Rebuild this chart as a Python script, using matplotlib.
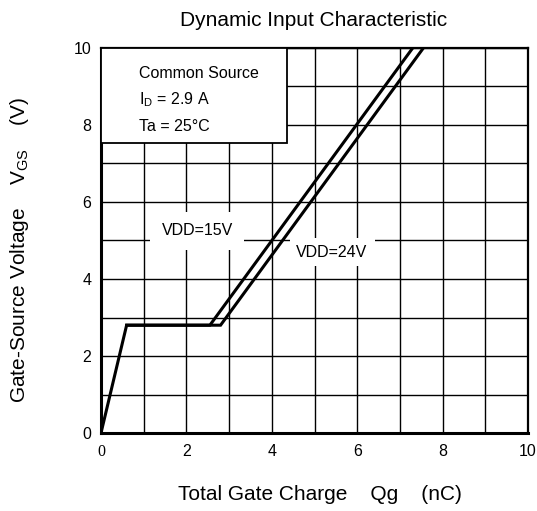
import numpy as np
import matplotlib as mpl
import matplotlib.pyplot as plt

mpl.rcParams['font.family'] = ['Liberation Sans', 'DejaVu Sans']

# data (Qg in nC, VGS in V)
qg_15 = [0.0, 0.6, 2.55, 7.3]
vgs_15 = [0.0, 2.8, 2.8, 10.0]
qg_24 = [0.6, 2.8, 7.55]
vgs_24 = [2.8, 2.8, 10.0]

x_ticks = [0, 2, 4, 6, 8, 10]
y_ticks = [0, 2, 4, 6, 8, 10]
cond_lines = ['Common Source', r'I$_\mathregular{D}$ = 2.9 A', 'Ta = 25°C']

fig = plt.figure(figsize=(5.37, 5.11), dpi=100)
ax = fig.add_axes([101 / 537, 78 / 511, 427 / 537, 385 / 511])

ax.set_xlim(0, 10)
ax.set_ylim(0, 10)
ax.set_xticks(x_ticks)
ax.set_yticks(y_ticks)
ax.set_xticks(np.arange(1, 10, 2), minor=True)
ax.set_yticks(np.arange(1, 10, 2), minor=True)
ax.grid(True, which='both', color='black', linewidth=1.0)
ax.set_axisbelow(True)
ax.tick_params(which='both', length=0, labelsize=11.5)
ax.tick_params(axis='x', pad=8)
ax.tick_params(axis='y', pad=7)

for side in ['left', 'bottom']:
    ax.spines[side].set_linewidth(2.2)
for side in ['top', 'right']:
    ax.spines[side].set_linewidth(1.6)

ax.plot(qg_15, vgs_15, color='black', linewidth=2.2, solid_joinstyle='miter', zorder=3)
ax.plot(qg_24, vgs_24, color='black', linewidth=2.2, solid_joinstyle='miter', zorder=3)

# conditions box
ax.add_patch(plt.Rectangle((0, 7.53), 4.36, 2.47, facecolor='white',
                           edgecolor='black', linewidth=1.3, zorder=4))
for i, s in enumerate(cond_lines):
    ax.text(0.9, 9.35 - 0.7 * i, s, fontsize=11.5, va='center', ha='left', zorder=5)

ax.text(2.25, 5.25, 'VDD=15V', fontsize=11.5, ha='center', va='center', zorder=5,
        bbox=dict(facecolor='white', edgecolor='none', pad=8))
ax.text(5.41, 4.70, 'VDD=24V', fontsize=11.5, ha='center', va='center', zorder=5,
        bbox=dict(facecolor='white', edgecolor='none', pad=5))

fig.text(314 / 537, 1 - 20 / 511, 'Dynamic Input Characteristic', fontsize=15,
         ha='center', va='center')
fig.text(320 / 537, 1 - 494 / 511, 'Total Gate Charge    Qg    (nC)', fontsize=15,
         ha='center', va='center')
fig.text(20 / 537, 1 - 250 / 511,
         r'Gate-Source Voltage    V$_\mathregular{GS}$    (V)', fontsize=15,
         ha='center', va='center', rotation=90)

# the origin label on the x axis is set in a serif face in the original
fig.canvas.draw()
ax.get_xticklabels()[0].set_fontfamily('Liberation Serif')

fig.savefig('out.png', dpi=100)
